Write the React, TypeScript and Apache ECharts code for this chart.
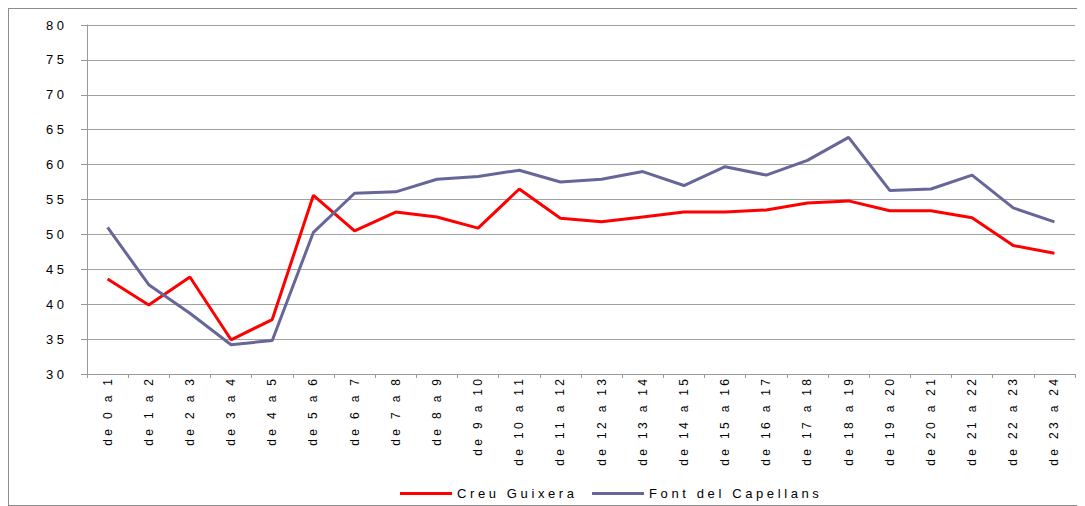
import React, { useEffect, useRef } from "react";
import * as echarts from "echarts";

const categories = [
  "de 0 a 1", "de 1 a 2", "de 2 a 3", "de 3 a 4", "de 4 a 5", "de 5 a 6",
  "de 6 a 7", "de 7 a 8", "de 8 a 9", "de 9 a 10", "de 10 a 11", "de 11 a 12",
  "de 12 a 13", "de 13 a 14", "de 14 a 15", "de 15 a 16", "de 16 a 17", "de 17 a 18",
  "de 18 a 19", "de 19 a 20", "de 20 a 21", "de 21 a 22", "de 22 a 23", "de 23 a 24",
];

const creuGuixera = [
  43.6, 39.9, 43.9, 34.9, 37.8, 55.6, 50.5, 53.2, 52.5, 50.9, 56.5, 52.3,
  51.8, 52.5, 53.2, 53.2, 53.5, 54.5, 54.8, 53.4, 53.4, 52.4, 48.4, 47.3,
];

const fontCapellans = [
  51.0, 42.8, 38.7, 34.2, 34.8, 50.3, 55.9, 56.1, 57.9, 58.3, 59.2, 57.5,
  57.9, 59.0, 57.0, 59.7, 58.5, 60.6, 63.9, 56.3, 56.5, 58.5, 53.8, 51.8,
];

const seriesNames = ["Creu Guixera", "Font del Capellans"];

const spaced = (s: string) => s.split("").join(" ");
const FONT = "'Liberation Sans Narrow', 'Liberation Sans', Arial, sans-serif";

export default function App() {
  const ref = useRef<HTMLDivElement>(null);
  useEffect(() => {
    if (!ref.current) return;
    const chart = echarts.init(ref.current, undefined, { renderer: "svg" });
    chart.setOption({
      animation: false,
      textStyle: { fontFamily: FONT },
      grid: { left: 78, right: 9, top: 16, bottom: 131 },
      legend: {
        left: 386,
        top: 473,
        icon: "rect",
        itemWidth: 52,
        itemHeight: 3,
        itemGap: 18,
        textStyle: { fontFamily: FONT, fontSize: 13, color: "#000" },
        formatter: (n: string) => spaced(n),
        data: seriesNames,
      },
      xAxis: {
        type: "category",
        data: categories,
        boundaryGap: true,
        axisLine: { lineStyle: { color: "#999", width: 1 } },
        axisTick: { show: true, length: 4, lineStyle: { color: "#999" } },
        axisLabel: {
          rotate: 90,
          interval: 0,
          margin: 5,
          fontSize: 12,
          color: "#000",
          fontFamily: FONT,
          formatter: (v: string) => spaced(v),
        },
      },
      yAxis: {
        type: "value",
        min: 30,
        max: 80,
        interval: 5,
        axisLine: { show: true, lineStyle: { color: "#999", width: 1 } },
        axisTick: { show: true, length: 6, lineStyle: { color: "#999" } },
        splitLine: { lineStyle: { color: "#a0a0a0", width: 1 } },
        axisLabel: {
          margin: 23,
          fontSize: 13,
          color: "#000",
          fontFamily: FONT,
          formatter: (v: number) => spaced(String(v)),
        },
      },
      series: [
        {
          name: seriesNames[0],
          type: "line",
          data: creuGuixera,
          symbol: "none",
          lineStyle: { color: "#ff0000", width: 3 },
          itemStyle: { color: "#ff0000" },
        },
        {
          name: seriesNames[1],
          type: "line",
          data: fontCapellans,
          symbol: "none",
          lineStyle: { color: "#666699", width: 3 },
          itemStyle: { color: "#666699" },
        },
      ],
    });
    return () => chart.dispose();
  }, []);
  return (
    <div
      style={{
        width: 1077,
        height: 498,
        border: "1px solid #8c8c8c",
        boxSizing: "border-box",
      }}
    >
      <div ref={ref} style={{ width: 1075, height: 496 }} />
    </div>
  );
}
